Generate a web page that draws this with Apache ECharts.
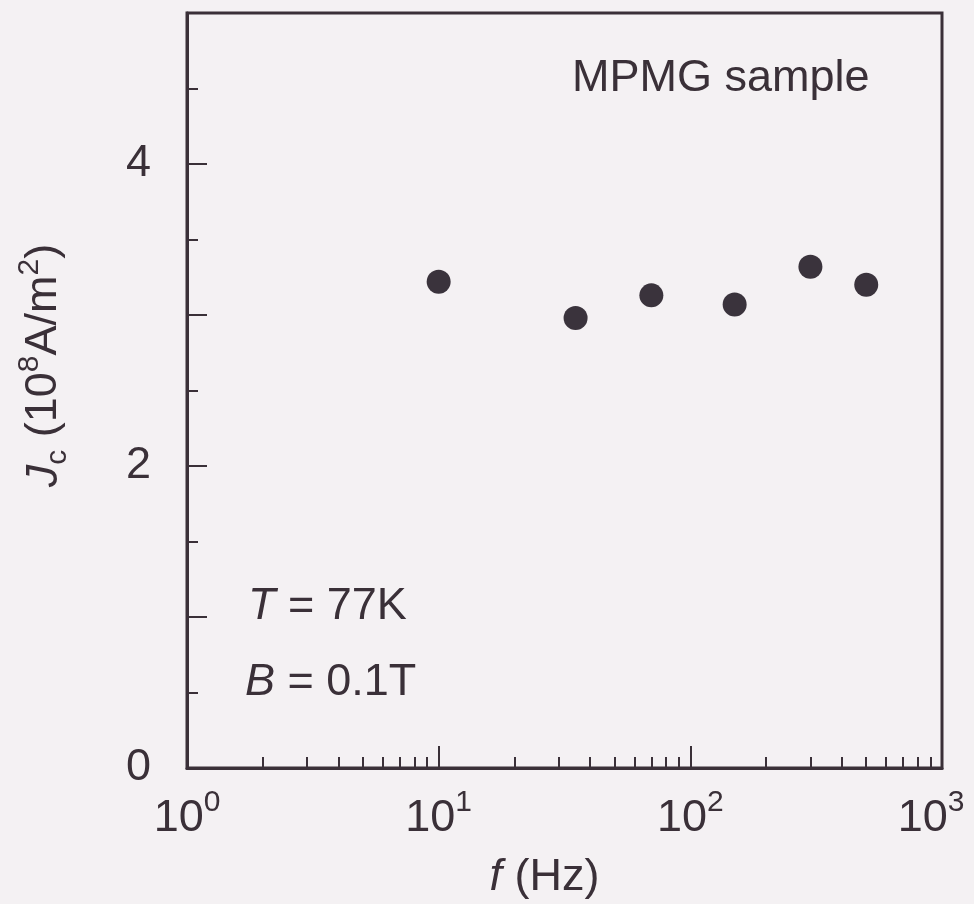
<!DOCTYPE html>
<html>
<head>
<meta charset="utf-8">
<script src="https://cdn.jsdelivr.net/npm/echarts@6/dist/echarts.min.js"></script>
<style>
html,body{margin:0;padding:0;background:#f4f1f3;}
#c{width:974px;height:904px;}
</style>
</head>
<body>
<div id="c"></div>
<script>
// Data
const freqHz = [10, 35, 70, 150, 300, 500];
const jcValues = [3.22, 2.98, 3.13, 3.07, 3.32, 3.20];
const xMajorTicks = [10, 100];
const xMinorTicks = [2,3,4,5,6,7,8,9,20,30,40,50,60,70,80,90,200,300,400,500,600,700,800,900];
const xLabelValues = [1, 10, 100, 1000];
const yLabelValues = [0, 2, 4];

const ink = '#3a3038';
const FONT = 'Liberation Sans';
const FS = 45;

const chart = echarts.init(document.getElementById('c'), null, {renderer: 'canvas'});

const gridRect = {left: 187, top: 13, right: 32, bottom: 136};

const option = {
  backgroundColor: '#f4f1f3',
  animation: false,
  textStyle: {fontFamily: FONT, color: ink},
  grid: [
    Object.assign({show: true, borderColor: ink, borderWidth: 3, backgroundColor: 'transparent', containLabel: false, outerBoundsMode: 'none'}, gridRect),
    Object.assign({show: false, containLabel: false, outerBoundsMode: 'none'}, gridRect)
  ],
  xAxis: [
    {
      type: 'log', logBase: 10, min: 1, max: 1000, gridIndex: 0, position: 'bottom',
      axisLine: {show: true, lineStyle: {color: ink, width: 3}},
      axisTick: {show: true, inside: true, length: 22, customValues: xMajorTicks, lineStyle: {color: ink, width: 2}},
      minorTick: {show: false},
      splitLine: {show: false},
      axisLabel: {
        customValues: xLabelValues,
        margin: 20,
        formatter: function (v) {
          const e = Math.round(Math.log10(v));
          return '{b|10}{' + (v >= 1000 ? 'se' : 's') + '|' + e + '}';
        },
        rich: {
          b: {fontSize: FS, fontFamily: FONT, color: ink, lineHeight: 62},
          s: {fontSize: 30, fontFamily: FONT, color: ink, lineHeight: 16, verticalAlign: 'top'},
          se: {fontSize: 30, fontFamily: FONT, color: ink, lineHeight: 16, verticalAlign: 'top', padding: [0, 22, 0, 0]}
        }
      },
      name: '{i|f} (Hz)',
      nameLocation: 'middle',
      nameGap: 87,
      nameTextStyle: {
        fontSize: FS, fontFamily: FONT, color: ink, padding: [0, 40, 0, 0],
        rich: {i: {fontSize: FS, fontStyle: 'italic', fontFamily: FONT, color: ink}}
      }
    },
    {
      type: 'log', logBase: 10, min: 1, max: 1000, gridIndex: 1, position: 'bottom',
      axisLine: {show: false},
      axisTick: {show: true, inside: true, length: 11, customValues: xMinorTicks, lineStyle: {color: ink, width: 2}},
      axisLabel: {show: false},
      splitLine: {show: false}
    }
  ],
  yAxis: [
    {
      type: 'value', min: 0, max: 5, interval: 1, gridIndex: 0,
      axisLine: {show: true, lineStyle: {color: ink, width: 3}},
      axisTick: {show: true, inside: true, length: 20, lineStyle: {color: ink, width: 2}},
      minorTick: {show: true, splitNumber: 2, length: 11, lineStyle: {color: ink, width: 2}},
      splitLine: {show: false},
      minorSplitLine: {show: false},
      axisLabel: {
        margin: 36, fontSize: FS, fontFamily: FONT, color: ink,
        formatter: function (v) { return yLabelValues.indexOf(v) >= 0 ? String(v) : ''; }
      },
      name: '{i|J}{sub|c} (10{sup|8}A/m{sup|2})',
      nameLocation: 'middle',
      nameGap: 114,
      nameTextStyle: {
        fontSize: FS, fontFamily: FONT, color: ink, padding: [0, 0, 0, 50],
        rich: {
          i: {fontSize: FS, fontStyle: 'italic', fontFamily: FONT, color: ink, lineHeight: 58},
          sub: {fontSize: 30, fontFamily: FONT, color: ink, lineHeight: 14, verticalAlign: 'bottom'},
          sup: {fontSize: 30, fontFamily: FONT, color: ink, lineHeight: 14, verticalAlign: 'top'}
        }
      }
    },
    {type: 'value', min: 0, max: 5, gridIndex: 1, show: false}
  ],
  graphic: [
    {type: 'text', left: 572, top: 56, style: {text: 'MPMG sample', font: FS + 'px "Liberation Sans"', fill: ink}},
    {type: 'text', left: 248, top: 584, style: {text: '{i|T} = 77K', font: FS + 'px "Liberation Sans"', fill: ink,
      rich: {i: {fontStyle: 'italic', fontSize: FS, fontFamily: FONT, fill: ink}}}},
    {type: 'text', left: 245, top: 660, style: {text: '{i|B} = 0.1T', font: FS + 'px "Liberation Sans"', fill: ink,
      rich: {i: {fontStyle: 'italic', fontSize: FS, fontFamily: FONT, fill: ink}}}}
  ],
  series: [
    {
      type: 'scatter', xAxisIndex: 0, yAxisIndex: 0,
      symbol: 'circle', symbolSize: 24,
      itemStyle: {color: '#3a333c', opacity: 1},
      data: freqHz.map(function (f, i) { return [f, jcValues[i]]; })
    }
  ]
};
chart.setOption(option);
</script>
</body>
</html>
